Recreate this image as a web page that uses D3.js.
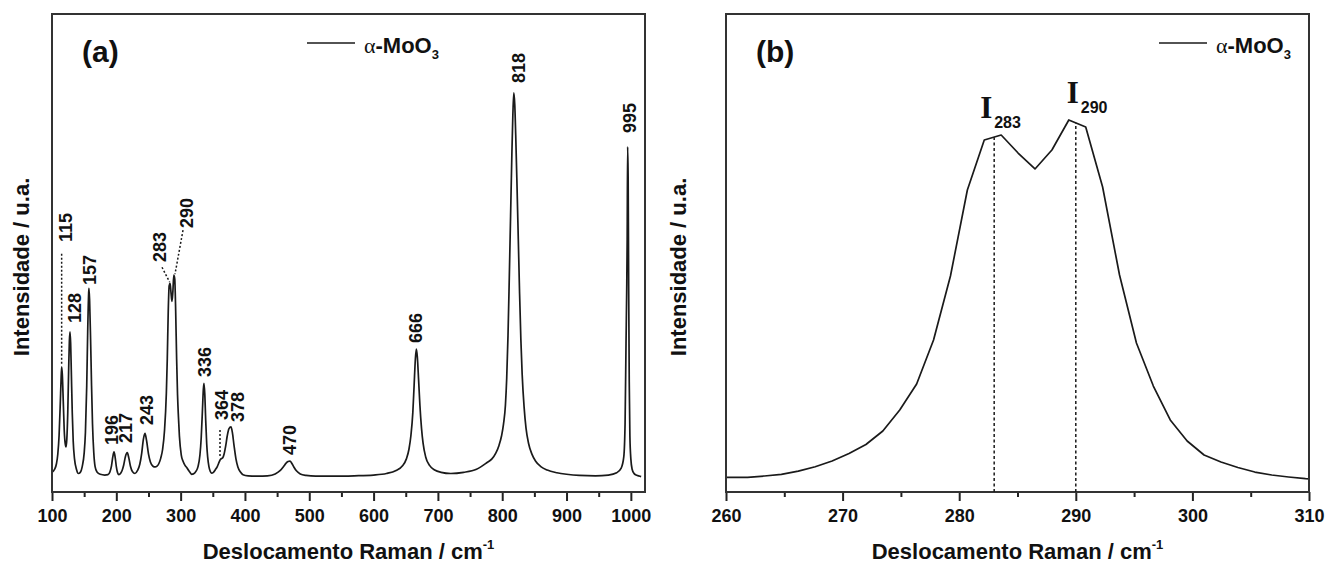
<!DOCTYPE html>
<html>
<head>
<meta charset="utf-8">
<script src="https://cdn.jsdelivr.net/npm/d3@7"></script>
<style>
  body { margin: 0; background: #fff; }
  text { font-family: "Liberation Sans", Arial, sans-serif; font-weight: bold; fill: #111; }
</style>
</head>
<body>
<svg id="chart" width="1325" height="564"></svg>
<script>
// Raman spectrum of alpha-MoO3 (shift cm-1, intensity a.u.)
var spectrumA = [
  [100,1.5],[104,2.3],[107,3.8],[109,6.2],[111,11],[113,20],[114,25],[115,28.9],[116,27],[117.5,20],
  [119,12.5],[120.5,9],[121.8,8.1],[123,10],[124.5,17],[126,29],[127,35.5],[128,38],[129,35],[130,28],
  [131.5,17],[133,9.5],[135,5],[138,2.3],[141,1.2],[144,1.5],[147,3],[150,6.5],[152,12],[154,24],
  [155.5,38],[157,48],[157.5,49.3],[158.5,46],[160,36],[161.5,24],[163,14],[165,6.5],[167,3],[170,1.6],
  [175,1],[182,0.8],[187,0.9],[190,1.6],[192.5,3.2],[194.5,5.5],[196.4,6.8],[198.2,5.4],[200,3],[202,1.4],
  [204,0.9],[206.5,1.2],[209,2],[211.5,3.4],[214,5.5],[217,6.6],[219.5,5.2],[222,3.1],[225,1.7],[229,1.2],
  [233,2],[236.5,3.6],[239.5,6.5],[242,10],[244.6,11.6],[247,9.8],[250,6.3],[253,4.2],[257,3.1],[260.4,2.9],
  [263.3,3.1],[266.2,3.8],[269.1,5.2],[272,7.5],[274.9,12.3],[277.8,22.1],[279.25,31],[280.7,43],[282.15,49.9],[283.6,50.6],
  [285.05,48.1],[286.5,45.9],[287.95,48.5],[289.4,52.7],[290.85,51.7],[292.3,43.4],[293.75,31.1],[295.2,21.6],[296.65,15.7],[298.1,10.9],
  [301,6],[303.9,4.3],[306.8,3.3],[309.7,2.7],[312,2.1],[315,1.4],[317,1.0],[320,1.1],[324,1.8],[327,3],
  [330,6],[332,10.5],[334,18],[335.3,23],[336.3,24.6],[337.5,22],[339,15],[340.5,9],[342,5.5],[344,3],
  [346,1.8],[348,1.3],[351,1.5],[354,2.2],[357,3],[360,4.2],[362,4.9],[363.8,5.1],[365.5,5.3],[367.5,6.2],
  [370,8.3],[372.5,11],[375,12.8],[378.3,13.3],[380.5,11.8],[383,8.5],[386,5],[389,2.9],[393,1.6],[397,0.9],
  [405,0.6],[420,0.5],[435,0.6],[447,1.1],[455,2],[460,3],[464,3.9],[467,4.3],[470,4.4],[473,3.8],
  [476,2.9],[480,1.9],[486,1.1],[495,0.7],[510,0.5],[540,0.5],[570,0.6],[600,0.8],[620,1.2],[635,2],
  [645,3.2],[651,5],[655,7.5],[658,11],[661,17],[663,24],[665,31],[666.5,33.5],[668,31.5],[670,25.5],
  [672,19],[674.5,13],[677,9],[681,5.5],[687,3.3],[695,2.1],[705,1.5],[720,1.2],[740,1.5],[760,2.3],
  [776,4],[784,5],[790,6.5],[795,8.5],[799,11],[802,14],[805,19],[807,26],[809,37],[811,52],
  [813,68],[815,84],[816.5,94],[818,100],[819.5,97],[821,89],[823,76],[825,62],[827,48],[829,36],
  [831,27],[834,18.5],[837,13],[841,9],[846,6.3],[852,4.4],[860,3],[870,2.1],[885,1.4],[900,1],
  [920,0.7],[945,0.6],[965,0.8],[978,1.4],[985,2.6],[989,5.5],[991,14],[992.5,35],[993.5,48],[994.3,62],
  [995,86],[995.8,78],[996.6,50],[997.5,25],[998.5,11],[1000,5],[1002,2.3],[1005,1.2],[1008,0.8],[1012,0.6],
  [1016,0.4]
];

// zoom on the 283 / 290 doublet
var spectrumB = [
  [258.95,2.91],[260.4,2.94],[261.85,2.94],[263.3,3.12],[264.75,3.35],[266.2,3.79],[267.65,4.4],[269.1,5.21],
  [270.55,6.25],[272.0,7.5],[273.45,9.39],[274.9,12.31],[276.35,15.93],[277.8,22.06],[279.25,30.97],[280.7,42.95],
  [282.15,49.91],[283.6,50.61],[285.05,48.1],[286.5,45.88],[287.95,48.52],[289.4,52.7],[290.85,51.73],[292.3,43.37],
  [293.75,31.11],[295.2,21.64],[296.65,15.65],[298.1,10.92],[299.55,7.99],[301.0,6.04],[302.45,5.07],[303.9,4.3],
  [305.35,3.67],[306.8,3.26],[308.25,2.98],[309.7,2.74],[311.15,2.63]
];

var peakPositions = [115, 128, 157, 196, 217, 243, 283, 290, 336, 364, 378, 470, 666, 818, 995];
var peakHeights = [28.9, 38, 49.3, 6.8, 6.6, 11.6, 50.6, 52.7, 24.6, 5.1, 13.3, 4.4, 33.5, 100, 86];
var peakLabels = peakPositions.map(String);

var markerPositions = [283, 290];
var markerHeights = [50.3, 52.3];
var markerLabels = ["283", "290"];

var ticksA = [100, 200, 300, 400, 500, 600, 700, 800, 900, 1000];
var minorTicksA = [150, 250, 350, 450, 550, 650, 750, 850, 950];
var ticksB = [260, 270, 280, 290, 300, 310];
var minorTicksB = [265, 275, 285, 295, 305];

var seriesName = "MoO";
var xTitle = "Deslocamento Raman / cm";
var yTitle = "Intensidade / u.a.";
var panelTags = ["(a)", "(b)"];

// layout (pixels)
var width = 1325, height = 564;
var panels = [
  { left: 52, right: 645, top: 14, bottom: 492, xDomain: [100, 1022], yDomain: [-3.6, 120.5],
    data: spectrumA, ticks: ticksA, minor: minorTicksA, tag: panelTags[0], legendX: 307, yTitleX: 29, smooth: true },
  { left: 726, right: 1309, top: 14, bottom: 492, xDomain: [260, 310], yDomain: [0.89, 67.46],
    data: spectrumB, ticks: ticksB, minor: minorTicksB, tag: panelTags[1], legendX: 1159, yTitleX: 686, smooth: false }
];

// offsets of rotated peak labels from the peak tops
var labelOffsets = [[10.4,-124.8],[11,-8.8],[7,-3.2],[4,-7],[4.7,-9.7],[9,-8.5],[-3.7,-21.2],[18.8,-47.1],
  [7,-6.4],[6.2,-38.5],[13,-4.9],[6,-6.2],[5.6,-6.1],[11,-10],[8.3,-13.9]];
var leaders = {
  "115": [[0,-113],[0,-2]],
  "283": [[-7.7,-16],[0,-1]],
  "290": [[8.8,-45],[0.8,-1]],
  "364": [[-1.8,-28.5],[-1.8,-2]]
};

var svg = d3.select("#chart").attr("width", width).attr("height", height);
var defs = svg.append("defs");
var ink = "#1a1a1a";

panels.forEach(function(p, i) {
  var x = d3.scaleLinear().domain(p.xDomain).range([p.left, p.right]);
  var y = d3.scaleLinear().domain(p.yDomain).range([p.bottom, p.top]);
  p.x = x; p.y = y;

  defs.append("clipPath").attr("id", "clip" + i)
    .append("rect")
    .attr("x", p.left).attr("y", p.top)
    .attr("width", p.right - p.left).attr("height", p.bottom - p.top);

  var g = svg.append("g");

  var line = d3.line()
    .x(function(d) { return x(d[0]); })
    .y(function(d) { return y(d[1]); })
    .curve(p.smooth ? d3.curveMonotoneX : d3.curveLinear);

  g.append("path")
    .datum(p.data)
    .attr("clip-path", "url(#clip" + i + ")")
    .attr("fill", "none")
    .attr("stroke", ink)
    .attr("stroke-width", 1.7)
    .attr("stroke-linejoin", "round")
    .attr("d", line);

  // minor ticks
  g.append("g")
    .attr("transform", "translate(0," + p.bottom + ")")
    .call(d3.axisBottom(x).tickValues(p.minor).tickSize(5).tickFormat(""))
    .call(function(a) { a.select(".domain").remove(); })
    .selectAll("line").attr("stroke", "#222").attr("stroke-width", 2);

  // major ticks + labels
  var ax = g.append("g")
    .attr("transform", "translate(0," + p.bottom + ")")
    .call(d3.axisBottom(x).tickValues(p.ticks).tickSize(9).tickPadding(8).tickFormat(d3.format("d")));
  ax.select(".domain").remove();
  ax.selectAll("line").attr("stroke", "#222").attr("stroke-width", 2);
  ax.selectAll("text")
    .style("font-family", "'Liberation Sans', Arial, sans-serif")
    .style("font-weight", "bold")
    .style("font-size", "18px")
    .attr("fill", "#111");

  // frame
  g.append("rect")
    .attr("x", p.left).attr("y", p.top)
    .attr("width", p.right - p.left).attr("height", p.bottom - p.top)
    .attr("fill", "none").attr("stroke", "#333").attr("stroke-width", 2);

  // panel tag
  g.append("text")
    .attr("x", p.left + 30).attr("y", 62)
    .style("font-size", "30px")
    .text(p.tag);

  // legend
  g.append("line")
    .attr("x1", p.legendX).attr("x2", p.legendX + 48)
    .attr("y1", 43).attr("y2", 43)
    .attr("stroke", ink).attr("stroke-width", 1.6);
  var lt = g.append("text")
    .attr("x", p.legendX + 57).attr("y", 53)
    .style("font-size", "22px");
  lt.append("tspan")
    .style("font-family", "'Liberation Serif', 'Times New Roman', serif")
    .style("font-weight", "normal")
    .text("\u03b1");
  lt.append("tspan").text("-" + seriesName);
  lt.append("tspan").attr("dy", 6).style("font-size", "13px").text("3");

  // axis titles
  var xt = g.append("text")
    .attr("x", (p.left + p.right) / 2).attr("y", 559)
    .attr("text-anchor", "middle")
    .style("font-size", "22px");
  xt.append("tspan").text(xTitle);
  xt.append("tspan").attr("dy", -10).style("font-size", "13px").text("-1");

  g.append("text")
    .attr("transform", "translate(" + p.yTitleX + ",267) rotate(-90)")
    .attr("text-anchor", "middle")
    .style("font-size", "22px")
    .text(yTitle);
});

// peak labels on panel (a)
var pa = panels[0];
var gl = svg.append("g");
peakPositions.forEach(function(pos, i) {
  var px = pa.x(pos), py = pa.y(peakHeights[i]);
  var off = labelOffsets[i];
  gl.append("text")
    .attr("transform", "translate(" + (px + off[0]) + "," + (py + off[1]) + ") rotate(-90)")
    .style("font-size", "18px")
    .text(peakLabels[i]);
  var ld = leaders[peakLabels[i]];
  if (ld) {
    gl.append("line")
      .attr("x1", px + ld[0][0]).attr("y1", py + ld[0][1])
      .attr("x2", px + ld[1][0]).attr("y2", py + ld[1][1])
      .attr("stroke", ink).attr("stroke-width", 1.5)
      .attr("stroke-dasharray", "2,2");
  }
});

// intensity markers on panel (b)
var pb = panels[1];
var gm = svg.append("g");
markerPositions.forEach(function(pos, i) {
  var mx = pb.x(pos), my = pb.y(markerHeights[i]);
  gm.append("line")
    .attr("x1", mx).attr("x2", mx)
    .attr("y1", pb.bottom).attr("y2", my)
    .attr("stroke", ink).attr("stroke-width", 1.5)
    .attr("stroke-dasharray", "3,2.5");
  var ix = i === 0 ? mx - 14 : mx - 9;
  var iy = i === 0 ? my - 19 : my - 20;
  gm.append("text")
    .attr("x", ix).attr("y", iy)
    .style("font-family", "'Liberation Serif', 'Times New Roman', serif")
    .style("font-size", "31px")
    .text("I");
  gm.append("text")
    .attr("x", ix + 14).attr("y", iy + 10)
    .style("font-size", "16px")
    .text(markerLabels[i]);
});
</script>
</body>
</html>
